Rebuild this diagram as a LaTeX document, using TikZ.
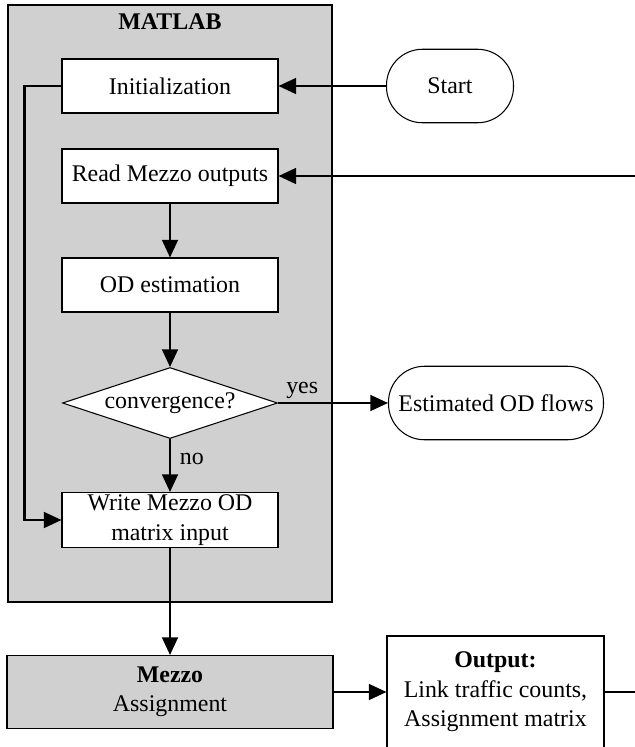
\documentclass[tikz,border=0pt]{standalone}
\usepackage{fontspec}
\setmainfont{Liberation Serif}
\usetikzlibrary{shapes.geometric,arrows.meta}
\definecolor{boxgray}{RGB}{208,208,208}
\begin{document}
\begin{tikzpicture}[font=\fontsize{13.6}{16.7}\selectfont,
    every node/.style={inner sep=0pt,align=center},
    stepbox/.style={draw,line width=.6pt,fill=white,minimum width=4.32cm,minimum height=1.08cm},
    endbox/.style={draw,line width=.6pt,fill=white,rounded corners=.72cm,minimum height=1.47cm},
    decide/.style={draw,diamond,aspect=3,line width=.6pt,fill=white,minimum width=4.3cm,minimum height=1.42cm},
    arr/.style={line width=1.2pt,-{Triangle[length=10pt,width=9pt]}},
    line/.style={line width=1.2pt}]
  \useasboundingbox (0,0) rectangle (12.7,-14.94);
  \draw[line width=.6pt,fill=boxgray] (.16,-.1) rectangle (6.64,-12.04);
  \node (matlab) at (3.4,-.44) {\bfseries MATLAB};
  \node [stepbox] (init) at (3.4,-1.72) {Initialization};
  \node [stepbox] (read) at (3.4,-3.52) {Read Mezzo outputs};
  \node [stepbox] (odest) at (3.4,-5.7) {OD estimation};
  \node [decide] (conv) at (3.4,-8.06) {convergence?};
  \node [stepbox,minimum height=1.1cm] (write) at (3.4,-10.4) {Write Mezzo OD\\matrix input};
  \node [endbox,minimum width=2.54cm] (start) at (9,-1.72) {Start};
  \node [endbox,minimum width=4.3cm] (flows) at (9.92,-8.06) {Estimated OD flows};
  \node [draw,line width=.6pt,fill=boxgray,minimum width=6.52cm,minimum height=1.46cm] (mezzo) at (3.4,-13.84) {\bfseries Mezzo\\Assignment};
  \node [draw,line width=.6pt,fill=white,minimum width=4.34cm,minimum height=2.24cm] (output) at (9.91,-13.84) {\bfseries Output:\\Link traffic counts,\\Assignment matrix};
  \coordinate (back) at (12.7,-3.52);
  \coordinate (out) at (12.7,-13.84);
  \draw [arr] (start) -- (init);
  \draw [arr] (back) -- (read);
  \draw [arr] (read) -- (odest);
  \draw [arr] (odest) -- (conv);
  \draw [arr] (conv) -- node [above,pos=.22,yshift=2pt] {yes} (flows);
  \draw [arr] (conv) -- node [right,pos=.38,xshift=5pt] {no} (write);
  \draw [arr] (init.west) -- ++(-.74,0) |- (write.west);
  \draw [arr] (write) -- (mezzo);
  \draw [arr] (mezzo) -- (output);
  \draw [line] (output) -- (out);
\end{tikzpicture}
\end{document}
